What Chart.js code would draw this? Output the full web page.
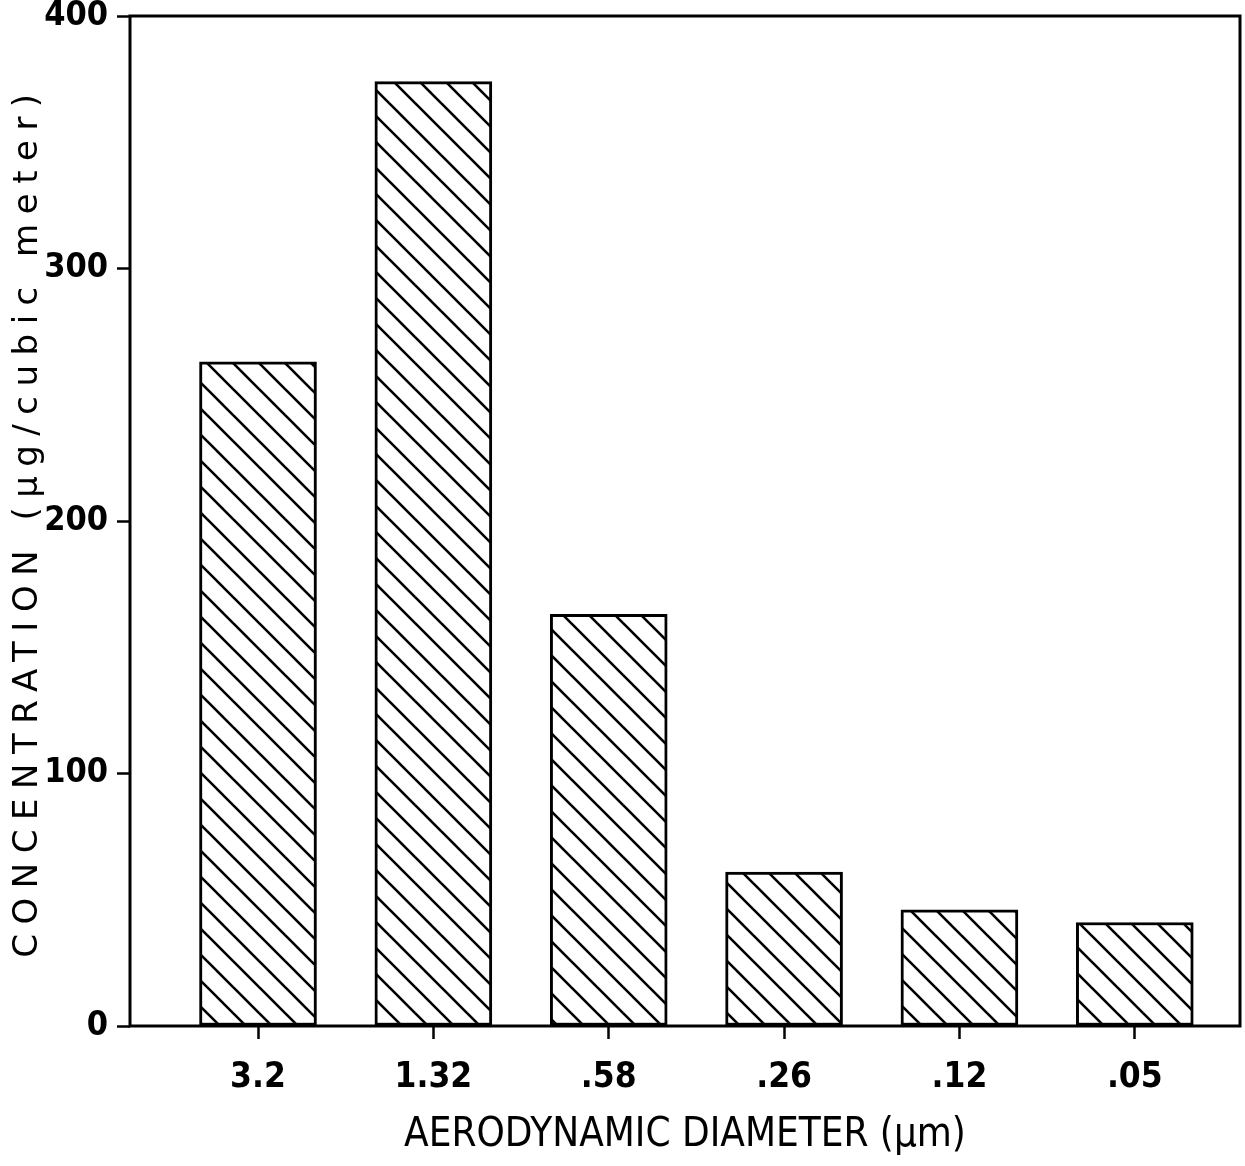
<!DOCTYPE html>
<html><head><meta charset="utf-8">
<script src="https://cdn.jsdelivr.net/npm/chart.js@4.4.1/dist/chart.umd.min.js"></script>
<style>html,body{margin:0;padding:0;background:#fff}#c{display:block}</style>
</head><body>
<canvas id="c" width="1245" height="1166"></canvas>
<script>
const categories = ['3.2', '1.32', '.58', '.26', '.12', '.05'];
const concentration = [263, 374, 163, 61, 46, 41];
const yTicks = [0, 100, 200, 300, 400];
const xTitle = 'AERODYNAMIC DIAMETER (μm)';
const yTitle = 'CONCENTRATION (μg/cubic meter)';

const NARROW = "'Liberation Sans Narrow', 'DejaVu Sans Condensed', 'Liberation Sans', sans-serif";
const WIDE = "'DejaVu Sans', 'Liberation Sans', sans-serif";

function hatch() {
  const s = 26;
  const c = document.createElement('canvas');
  c.width = s; c.height = s;
  const g = c.getContext('2d');
  g.fillStyle = '#fff'; g.fillRect(0, 0, s, s);
  g.strokeStyle = '#000'; g.lineWidth = 2.6;
  for (const k of [-s, 0, s]) {
    g.beginPath(); g.moveTo(-2, -2 + k); g.lineTo(s + 2, s + 2 + k); g.stroke();
  }
  return g.createPattern(c, 'repeat');
}

const frame = {
  id: 'frame',
  beforeDatasetsDraw(chart) {
    const {ctx, chartArea: a} = chart;
    ctx.save();
    ctx.lineWidth = 3; ctx.strokeStyle = '#000';
    ctx.strokeRect(a.left, a.top, a.right - a.left, a.bottom - a.top);
    ctx.restore();
  }
};

const spacedTitle = {
  id: 'spacedTitle',
  afterLayout(chart) {
    const y = chart.scales.y;
    if (!y || y._origDrawTitle) return;
    y._origDrawTitle = y.drawTitle;
    y.drawTitle = function () {
      const ctx = this.ctx;
      ctx.save();
      ctx.letterSpacing = '9.5px';
      this._origDrawTitle();
      ctx.restore();
    };
  }
};

new Chart(document.getElementById('c'), {
  type: 'bar',
  data: {
    datasets: [{
      data: concentration.map((v, i) => ({x: i, y: v})),
      backgroundColor: hatch(),
      borderColor: '#000',
      borderWidth: 3,
      borderSkipped: false,
      barThickness: 117
    }]
  },
  options: {
    responsive: false,
    animation: false,
    events: [],
    layout: {padding: {top: 16, right: 5, left: 0, bottom: 0}},
    plugins: {legend: {display: false}, tooltip: {enabled: false}},
    scales: {
      x: {
        type: 'linear',
        offset: false,
        min: -0.73, max: 5.6,
        afterBuildTicks(s) { s.ticks = categories.map((_, i) => ({value: i})); },
        afterFit(s) { s.height = 140; s.paddingLeft = 0; s.paddingRight = 0; },
        border: {display: false},
        grid: {offset: false, drawOnChartArea: false, color: '#000', tickLength: 13, tickWidth: 2.5},
        ticks: {
          callback: (v) => categories[v] ?? '',
          color: '#000',
          font: {family: NARROW, size: 35, weight: 'bold'},
          padding: 18, maxRotation: 0, autoSkip: false
        },
        title: {display: true, text: xTitle, color: '#000', font: {family: NARROW, size: 40}, padding: {top: 0, bottom: 6}}
      },
      y: {
        min: 0, max: 400,
        afterBuildTicks(s) { s.ticks = yTicks.map(v => ({value: v})); },
        afterFit(s) { s.width = 130; s.paddingTop = 0; s.paddingBottom = 0; },
        border: {display: false},
        grid: {drawOnChartArea: false, color: '#000', tickLength: 13, tickWidth: 2.5},
        ticks: {color: '#000', font: {family: NARROW, size: 34, weight: 'bold'}, padding: 9},
        title: {display: true, text: yTitle, color: '#000', font: {family: WIDE, size: 34}, padding: {top: 8, bottom: 0}}
      }
    }
  },
  plugins: [frame, spacedTitle]
});
</script>
</body></html>
